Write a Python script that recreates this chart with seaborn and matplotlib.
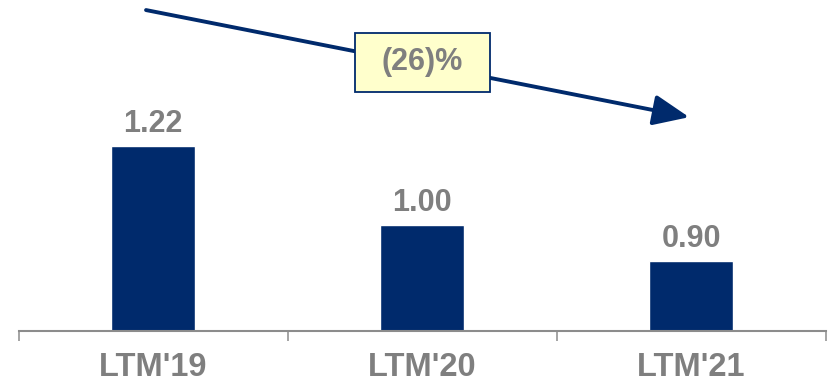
import matplotlib
matplotlib.use('Agg')
import matplotlib.pyplot as plt
from matplotlib.patches import Rectangle
import seaborn as sns

# data
periods = ["LTM'19", "LTM'20", "LTM'21"]
values = [1.22, 1.00, 0.90]
change_label = '(26)%'

NAVY = '#002a6c'
GREY = '#7f7f7f'
BOX = '#ffffcc'

sns.set_style('white')
plt.rcParams['font.family'] = ['Liberation Sans', 'DejaVu Sans']

fig = plt.figure(figsize=(8.31, 3.87), dpi=100)
ax = fig.add_axes([0.0223, 0.1447, 0.9711, 0.8553])

sns.barplot(x=periods, y=values, color=NAVY, saturation=1, width=0.312, ax=ax)
ax.set_xlim(-0.5, 2.5)
ax.set_ylim(0.705, 1.626)

ax.bar_label(ax.containers[0], fmt='%.2f', padding=5, fontsize=22,
             fontweight='bold', color=GREY)

# axis styling: only a grey baseline with ticks between categories
for sp in ['top', 'right', 'left']:
    ax.spines[sp].set_visible(False)
ax.spines['bottom'].set_color('#8c8c8c')
ax.spines['bottom'].set_linewidth(1.5)
ax.set_yticks([])
ax.set_ylabel('')
ax.set_xlabel('')
ax.set_xticks([-0.5, 0.5, 1.5, 2.5], minor=True)
ax.tick_params(axis='x', which='minor', bottom=True, length=7.5, width=1.1,
               color='#8c8c8c', direction='out')
ax.tick_params(axis='x', which='major', length=0, pad=15)
for t in ax.get_xticklabels():
    t.set_fontsize(23.5)
    t.set_fontweight('bold')
    t.set_color(GREY)

# trend arrow with change box
ax.annotate('', xy=(1.993, 1.300), xytext=(-0.026, 1.598),
            arrowprops=dict(arrowstyle='-|>,head_length=1.1,head_width=0.47',
                            mutation_scale=20, lw=2.8, color=NAVY,
                            shrinkA=0, shrinkB=0), zorder=3)
ax.add_patch(Rectangle((0.749, 1.371), 0.502, 0.164, facecolor=BOX,
                       edgecolor=NAVY, lw=1.3, zorder=4, clip_on=False))
ax.text(1.0, 1.453, change_label, ha='center', va='center', fontsize=22,
        fontweight='bold', color=GREY, zorder=5)

fig.savefig('out.png', dpi=100, facecolor='white')
